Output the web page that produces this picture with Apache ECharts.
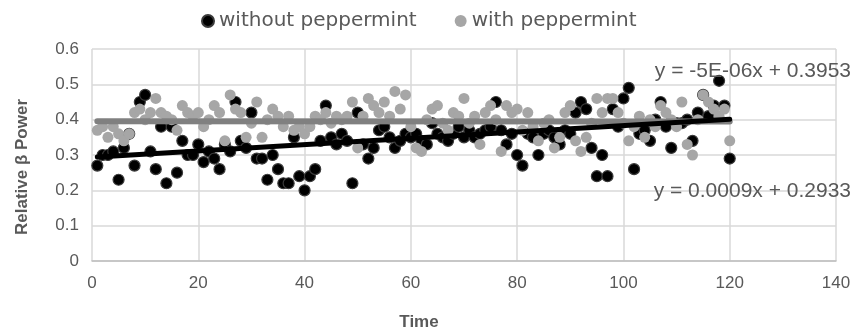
<!DOCTYPE html>
<html>
<head>
<meta charset="utf-8">
<script src="https://cdn.jsdelivr.net/npm/echarts@6/dist/echarts.min.js"></script>
<style>html,body{margin:0;padding:0;background:#fff;}#c{width:855px;height:333px;}</style>
</head>
<body>
<div id="c"></div>
<script>
const times = [1,2,3,4,5,6,7,8,9,10,11,12,13,14,15,16,17,18,19,20,21,22,23,24,25,26,27,28,29,30,31,32,33,34,35,36,37,38,39,40,41,42,43,44,45,46,47,48,49,50,51,52,53,54,55,56,57,58,59,60,61,62,63,64,65,66,67,68,69,70,71,72,73,74,75,76,77,78,79,80,81,82,83,84,85,86,87,88,89,90,91,92,93,94,95,96,97,98,99,100,101,102,103,104,105,106,107,108,109,110,111,112,113,114,115,116,117,118,119,120];
const withoutPeppermint = [0.27,0.30,0.30,0.31,0.23,0.32,0.36,0.27,0.45,0.47,0.31,0.26,0.38,0.22,0.38,0.25,0.34,0.30,0.30,0.33,0.28,0.31,0.29,0.26,0.33,0.31,0.45,0.34,0.32,0.42,0.29,0.29,0.23,0.30,0.26,0.22,0.22,0.35,0.24,0.20,0.24,0.26,0.34,0.44,0.35,0.33,0.36,0.34,0.22,0.42,0.33,0.29,0.32,0.37,0.38,0.35,0.32,0.34,0.36,0.35,0.36,0.34,0.33,0.39,0.36,0.35,0.34,0.36,0.38,0.35,0.37,0.35,0.36,0.37,0.38,0.45,0.37,0.33,0.36,0.30,0.27,0.36,0.35,0.30,0.36,0.37,0.35,0.33,0.37,0.36,0.42,0.45,0.43,0.32,0.24,0.30,0.24,0.43,0.38,0.46,0.49,0.26,0.36,0.37,0.34,0.40,0.45,0.38,0.32,0.39,0.39,0.40,0.34,0.42,0.47,0.41,0.44,0.51,0.44,0.29];
const withPeppermint = [0.37,0.38,0.35,0.38,0.36,0.34,0.36,0.42,0.43,0.40,0.42,0.46,0.42,0.41,0.40,0.37,0.44,0.42,0.41,0.42,0.38,0.40,0.44,0.42,0.34,0.47,0.43,0.42,0.35,0.39,0.45,0.35,0.40,0.43,0.41,0.38,0.41,0.37,0.38,0.36,0.38,0.41,0.40,0.42,0.39,0.41,0.40,0.41,0.45,0.32,0.41,0.46,0.44,0.42,0.45,0.41,0.48,0.43,0.47,0.38,0.32,0.31,0.40,0.43,0.44,0.39,0.37,0.42,0.41,0.46,0.39,0.41,0.33,0.42,0.44,0.40,0.31,0.44,0.42,0.43,0.37,0.42,0.38,0.34,0.39,0.40,0.32,0.35,0.42,0.44,0.34,0.31,0.35,0.39,0.46,0.42,0.46,0.46,0.42,0.39,0.34,0.38,0.41,0.35,0.40,0.38,0.44,0.42,0.40,0.38,0.45,0.33,0.30,0.40,0.47,0.45,0.43,0.41,0.43,0.34];
const seriesNames = ['without peppermint', 'with peppermint'];
const trendWithout = {slope: 0.0009, intercept: 0.2933, label: 'y = 0.0009x + 0.2933'};
const trendWith = {slope: -5e-6, intercept: 0.3953, label: 'y = -5E-06x + 0.3953'};
const xTitle = 'Time';
const yTitle = 'Relative β Power';
const xTicks = {min: 0, max: 140, step: 20};
const yTicks = {min: 0, max: 0.6, step: 0.1};

const FONT = "'Liberation Sans', Arial, sans-serif";
const LEGFONT = "'DejaVu Sans', sans-serif";
const TXT = '#595959';
const tMin = Math.min(...times), tMax = Math.max(...times);
const trendData = t => [[tMin, t.slope*tMin + t.intercept], [tMax, t.slope*tMax + t.intercept]];

const chart = echarts.init(document.getElementById('c'), null, {renderer: 'canvas'});
chart.setOption({
  animation: false,
  textStyle: {fontFamily: FONT},
  grid: {left: 92, right: 19, top: 49, bottom: 72, containLabel: false},
  legend: {
    top: 6, left: 196, itemGap: 38, itemWidth: 12, itemHeight: 12,
    data: seriesNames.map(n => ({name: n, icon: 'circle'})),
    textStyle: {color: TXT, fontSize: 20, fontFamily: LEGFONT}
  },
  xAxis: {
    type: 'value', min: xTicks.min, max: xTicks.max, interval: xTicks.step,
    axisLine: {show: true, lineStyle: {color: '#bfbfbf', width: 1.5}},
    axisTick: {show: false},
    axisLabel: {color: TXT, fontSize: 17, margin: 14, fontFamily: FONT},
    splitLine: {show: true, lineStyle: {color: '#d9d9d9', width: 1.5}}
  },
  yAxis: {
    type: 'value', min: yTicks.min, max: yTicks.max, interval: yTicks.step,
    axisLine: {show: false}, axisTick: {show: false},
    axisLabel: {color: TXT, fontSize: 17, margin: 13, fontFamily: FONT,
      formatter: v => (Math.round(v*10)/10).toString()},
    splitLine: {show: true, lineStyle: {color: '#d9d9d9', width: 1.5}}
  },
  series: [
    {name: seriesNames[0], type: 'scatter', symbolSize: 11,
     itemStyle: {color: '#000000', borderColor: '#3a3a3a', borderWidth: 1.2, opacity: 1},
     data: times.map((t, i) => [t, withoutPeppermint[i]]), z: 2},
    {name: seriesNames[1], type: 'scatter', symbolSize: 11,
     itemStyle: {color: '#a6a6a6', opacity: 1},
     data: times.map((t, i) => [t, withPeppermint[i]]), z: 3},
    {name: 'trendWith', type: 'line', symbol: 'none', silent: true,
     lineStyle: {color: '#808080', width: 6, cap: 'round'}, data: trendData(trendWith), z: 4},
    {name: 'trendWithout', type: 'line', symbol: 'none', silent: true,
     lineStyle: {color: '#000000', width: 5, cap: 'round'}, data: trendData(trendWithout), z: 5}
  ],
  graphic: [
    {type: 'text', right: 4, top: 61, z: 10,
     style: {text: trendWith.label, fill: TXT, font: "21px " + FONT}},
    {type: 'text', right: 4, top: 181, z: 10,
     style: {text: trendWithout.label, fill: TXT, font: "21px " + FONT}},
    {type: 'text', x: 419, y: 322, z: 10,
     style: {text: xTitle, fill: TXT, font: "bold 17px " + FONT, textAlign: 'center', textVerticalAlign: 'middle'}},
    {type: 'text', x: 22, y: 167, rotation: Math.PI / 2, z: 10,
     style: {text: yTitle, fill: TXT, font: "bold 17px " + FONT, textAlign: 'center', textVerticalAlign: 'middle'}}
  ]
});
</script>
</body>
</html>
